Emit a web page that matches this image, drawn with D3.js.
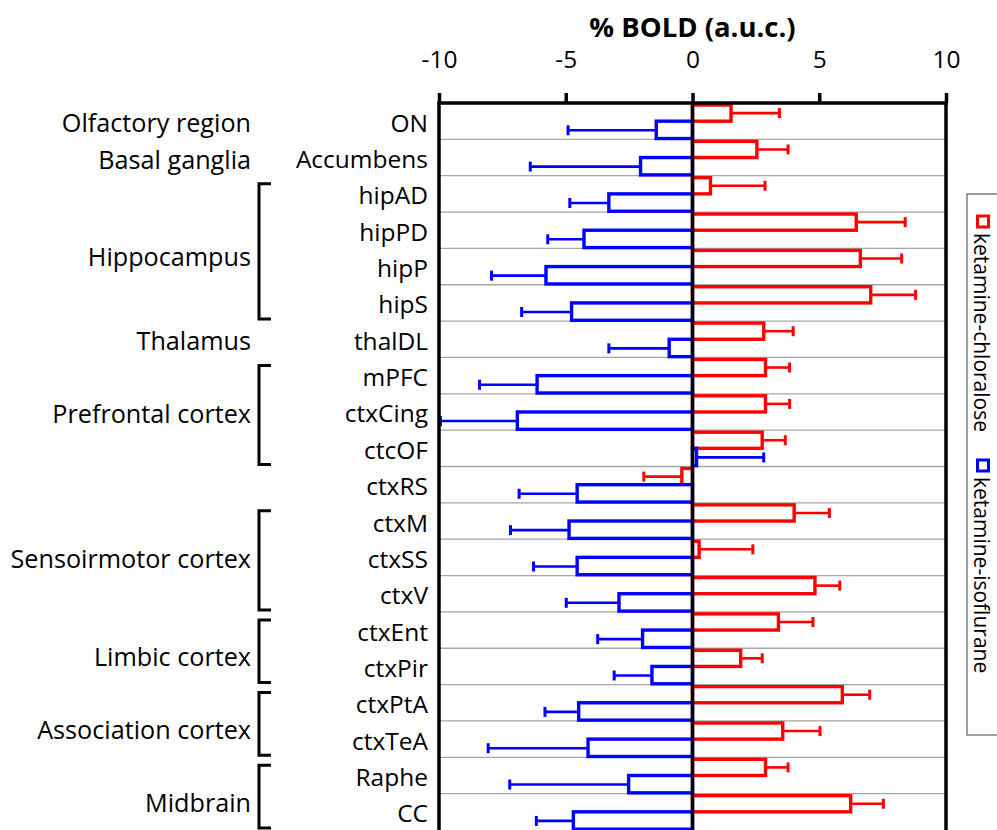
<!DOCTYPE html>
<html>
<head>
<meta charset="utf-8">
<script src="https://cdn.jsdelivr.net/npm/d3@7"></script>
<style>
  html, body { margin: 0; padding: 0; background: #fff; }
  svg { display: block; font-family: "Open Sans", sans-serif; }
</style>
</head>
<body>
<svg id="chart" width="997" height="830"></svg>
<script>
// ---------------- data ----------------
const categories = ["ON", "Accumbens", "hipAD", "hipPD", "hipP", "hipS", "thalDL",
  "mPFC", "ctxCing", "ctcOF", "ctxRS", "ctxM", "ctxSS", "ctxV", "ctxEnt", "ctxPir",
  "ctxPtA", "ctxTeA", "Raphe", "CC"];

const seriesNames = ["ketamine-chloralose", "ketamine-isoflurane"];
const seriesColors = ["#ff0000", "#0000ff"];

const chloraloseMean = [1.52, 2.54, 0.71, 6.46, 6.62, 7.03, 2.81, 2.88, 2.88, 2.75,
  -0.42, 4.01, 0.26, 4.83, 3.39, 1.90, 5.91, 3.56, 2.88, 6.24];
const chloraloseSem = [1.91, 1.23, 2.15, 1.93, 1.63, 1.77, 1.16, 0.95, 0.95, 0.91,
  1.50, 1.39, 2.12, 0.98, 1.36, 0.85, 1.08, 1.47, 0.89, 1.29];
const isofluraneMean = [-1.43, -2.05, -3.30, -4.28, -5.78, -4.77, -0.92, -6.13, -6.91, 0.16,
  -4.55, -4.87, -4.55, -2.90, -1.97, -1.60, -4.49, -4.12, -2.52, -4.70];
const isofluraneSem = [3.48, 4.35, 1.54, 1.43, 2.15, 1.97, 2.38, 2.27, 3.03, 2.65,
  2.29, 2.31, 1.72, 2.08, 1.77, 1.49, 1.33, 3.94, 4.69, 1.46];

const groupNames = ["Olfactory region", "Basal ganglia", "Hippocampus", "Thalamus",
  "Prefrontal cortex", "Sensoirmotor cortex", "Limbic cortex", "Association cortex", "Midbrain"];
const groupFirst = ["ON", "Accumbens", "hipAD", "thalDL", "mPFC", "ctxM", "ctxEnt", "ctxPtA", "Raphe"];
const groupLast  = ["ON", "Accumbens", "hipS",  "thalDL", "ctcOF", "ctxV", "ctxPir", "ctxTeA", "CC"];

const xTicks = [-10, -5, 0, 5, 10];
const xTitle = "% BOLD (a.u.c.)";

// ---------------- layout ----------------
const svg = d3.select("#chart");
const plot = { left: 439, right: 946, top: 103, bottom: 830 };
const FONT = 24.5;
const GFONT = 25.2;

const x = d3.scaleLinear().domain([-10, 10]).range([plot.left, plot.right]);
const y = d3.scaleBand().domain(categories).range([plot.top, plot.bottom]).padding(0);
const sub = d3.scaleBand().domain(seriesNames).range([0, y.bandwidth()]).padding(0);

const rows = categories.map((c, i) => ({
  cat: c,
  vals: [
    { s: seriesNames[0], color: seriesColors[0], m: chloraloseMean[i], e: chloraloseSem[i] },
    { s: seriesNames[1], color: seriesColors[1], m: isofluraneMean[i], e: isofluraneSem[i] }
  ]
}));

// gridlines at category boundaries
const grid = svg.append("g");
categories.slice(1).forEach(c => {
  grid.append("line")
    .attr("x1", plot.left).attr("x2", plot.right)
    .attr("y1", y(c)).attr("y2", y(c))
    .attr("stroke", "#a6a6a6").attr("stroke-width", 1.3);
});

// bars
const barG = svg.append("g");
rows.forEach(r => {
  r.vals.forEach((v, k) => {
    const y0 = y(r.cat) + sub(v.s) + (k === 0 ? 2 : 0);
    const h = sub.bandwidth() - (k === 0 ? 2 : 0.8);
    const xa = x(Math.min(0, v.m)), xb = x(Math.max(0, v.m));
    barG.append("rect")
      .attr("x", xa).attr("y", y0)
      .attr("width", Math.max(0.01, xb - xa)).attr("height", h)
      .attr("fill", "#fff").attr("stroke", v.color).attr("stroke-width", 3.4);
  });
});

// error bars
const errG = svg.append("g");
rows.forEach(r => {
  r.vals.forEach((v, k) => {
    const yc = y(r.cat) + sub(v.s) + sub.bandwidth() / 2 + (k === 0 ? 1 : 0);
    const end = v.m + Math.sign(v.m) * v.e;
    errG.append("line")
      .attr("x1", x(v.m)).attr("x2", x(end)).attr("y1", yc).attr("y2", yc)
      .attr("stroke", v.color).attr("stroke-width", 2.6);
    errG.append("line")
      .attr("x1", x(end)).attr("x2", x(end)).attr("y1", yc - 5).attr("y2", yc + 5)
      .attr("stroke", v.color).attr("stroke-width", 3);
  });
});

// frame lines
const frame = svg.append("g").attr("stroke", "#000").attr("stroke-width", 3.5);
frame.append("line").attr("x1", x(-10)).attr("x2", x(-10)).attr("y1", plot.top).attr("y2", plot.bottom);
frame.append("line").attr("x1", x(10)).attr("x2", x(10)).attr("y1", plot.top).attr("y2", plot.bottom);
frame.append("line").attr("x1", x(0)).attr("x2", x(0)).attr("y1", plot.top).attr("y2", plot.bottom);

// top axis
const axis = d3.axisTop(x).tickValues(xTicks).tickSize(10).tickSizeOuter(0).tickPadding(25)
  .tickFormat(d => String(d));
const axG = svg.append("g").attr("transform", `translate(0,${plot.top})`).call(axis);
axG.select(".domain").attr("stroke", "#000").attr("stroke-width", 3.5)
  .attr("d", `M${plot.left - 1.75},0H${plot.right + 1.75}`);
axG.selectAll(".tick line").attr("stroke", "#000").attr("stroke-width", 3.5);
axG.selectAll(".tick text").attr("fill", "#000").style("font-size", FONT + "px")
  .style("font-family", '"Open Sans", sans-serif');

// axis title
svg.append("text").attr("x", x(0)).attr("y", 37).attr("text-anchor", "middle")
  .style("font-size", "27.5px").style("font-weight", "bold").text(xTitle);

// category labels
const catG = svg.append("g");
categories.forEach(c => {
  catG.append("text").attr("x", 428).attr("y", y(c) + y.bandwidth() / 2 + 1)
    .attr("text-anchor", "end").attr("dominant-baseline", "central")
    .style("font-size", FONT + "px").attr("fill", "#000").text(c);
});

// group labels and brackets
const grpG = svg.append("g");
groupNames.forEach((g, i) => {
  const a = categories.indexOf(groupFirst[i]);
  const b = categories.indexOf(groupLast[i]);
  const top = y(groupFirst[i]);
  const bot = y(groupLast[i]) + y.bandwidth();
  const n = b - a + 1;
  const cy = (top + bot) / 2 + (n % 2 === 0 ? 7 : 0) + 1;
  grpG.append("text").attr("x", 251).attr("y", cy)
    .attr("text-anchor", "end").attr("dominant-baseline", "central")
    .style("font-size", GFONT + "px").attr("fill", "#000").text(g);
  if (n > 1) {
    const bt = top + 8, bb = bot - 2;
    grpG.append("path")
      .attr("d", `M271,${bt}H259V${bb}H271`)
      .attr("fill", "none").attr("stroke", "#000").attr("stroke-width", 3);
  }
});

// legend (vertical, rotated text)
const leg = svg.append("g");
leg.append("rect").attr("x", 967).attr("y", 194).attr("width", 60).attr("height", 541)
  .attr("fill", "#fff").attr("stroke", "#7f7f7f").attr("stroke-width", 1.5);
const legStarts = [216, 460];
seriesNames.forEach((s, i) => {
  leg.append("rect").attr("x", 977.5).attr("y", legStarts[i]).attr("width", 11).attr("height", 11)
    .attr("fill", "#fff").attr("stroke", seriesColors[i]).attr("stroke-width", 3);
  leg.append("text").attr("transform", `translate(982,${legStarts[i] + 17}) rotate(90)`)
    .attr("text-anchor", "start").attr("dominant-baseline", "central")
    .style("font-size", "21px").attr("fill", "#000").text(s);
});
</script>
</body>
</html>
